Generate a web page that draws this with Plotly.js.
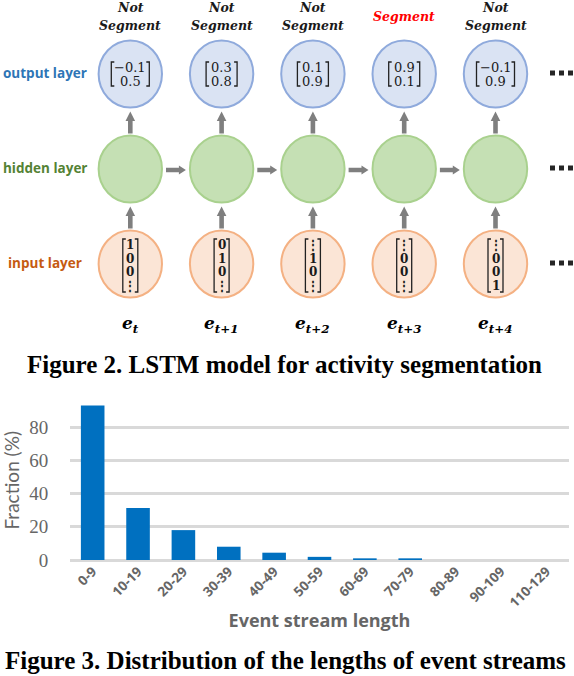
<!DOCTYPE html>
<html>
<head>
<meta charset="utf-8">
<script src="https://cdn.plot.ly/plotly-3.0.1.min.js"></script>
<style>html,body{margin:0;padding:0;background:#fff;}#chart{width:574px;height:676px;}</style>
</head>
<body>
<div id="chart"></div>
<script>
// ---- Bar chart data (Figure 3) ----
const categories = ['0-9','10-19','20-29','30-39','40-49','50-59','60-69','70-79','80-89','90-109','110-129'];
const fractions = [93, 31.3, 18, 8, 4.4, 1.9, 1.0, 1.0, 0, 0, 0];
const yTicks = [0, 20, 40, 60, 80];

// ---- Diagram content (Figure 2) ----
const stepLabels = ['t', 't+1', 't+2', 't+3', 't+4'];
const outputTop = ['\u22120.1', '0.3', '0.1', '0.9', '\u22120.1'];
const outputBottom = ['0.5', '0.8', '0.9', '0.1', '0.9'];
const decisions = ['Not Segment', 'Not Segment', 'Not Segment', 'Segment', 'Not Segment'];
const inputRow1 = ['1', '0', '\u22ee', '\u22ee', '\u22ee'];
const inputRow2 = ['0', '1', '1', '0', '0'];
const inputRow3 = ['0', '0', '0', '0', '0'];
const inputRow4 = ['\u22ee', '\u22ee', '\u22ee', '\u22ee', '1'];
const layerNames = ['output layer', 'hidden layer', 'input layer'];
const layerColors = ['#2e75b6', '#548235', '#c55a11'];

const W = 574, H = 676;
const px = x => x / W;
const py = y => 1 - y / H;

const colX = i => 130.3 + i * 91.3;
const rowY = [74, 169, 264];
const RX = 31.7, RY = 33.5;
const fills = ['#dae3f3', '#c5e0b4', '#fbe5d6'];
const strokes = ['#8faadc', '#a9d18e', '#f4b183'];
const arrowColor = '#7f7f7f';

const shapes = [];
const annotations = [];

// circles
for (let r = 0; r < 3; r++) {
  for (let i = 0; i < stepLabels.length; i++) {
    const cx = colX(i), cy = rowY[r];
    shapes.push({type:'circle', xref:'paper', yref:'paper',
      x0: px(cx - RX), x1: px(cx + RX), y0: py(cy + RY), y1: py(cy - RY),
      fillcolor: fills[r], line:{color: strokes[r], width: 2}});
  }
}

function poly(points) {
  return 'M ' + points.map(p => px(p[0]) + ',' + py(p[1])).join(' L ') + ' Z';
}
function arrowUp(x, yStart, yTip) {
  const hw = 2.3, headW = 4.8, headL = 9.5;
  shapes.push({type:'path', xref:'paper', yref:'paper', fillcolor: arrowColor, line:{width:0},
    path: poly([[x-hw, yStart],[x-hw, yTip+headL],[x-headW, yTip+headL],[x, yTip],[x+headW, yTip+headL],[x+hw, yTip+headL],[x+hw, yStart]])});
}
function arrowRight(xStart, xTip, y) {
  const hw = 2.3, headW = 4.5, headL = 7;
  shapes.push({type:'path', xref:'paper', yref:'paper', fillcolor: arrowColor, line:{width:0},
    path: poly([[xStart, y-hw],[xTip-headL, y-hw],[xTip-headL, y-headW],[xTip, y],[xTip-headL, y+headW],[xTip-headL, y+hw],[xStart, y+hw]])});
}
function square(cx, cy, s) {
  shapes.push({type:'rect', xref:'paper', yref:'paper', fillcolor:'#262626', line:{width:0},
    x0: px(cx - s/2), x1: px(cx + s/2), y0: py(cy + s/2), y1: py(cy - s/2)});
}

for (let i = 0; i < stepLabels.length; i++) {
  const cx = colX(i);
  arrowUp(cx, rowY[1] - RY - 2, rowY[0] + RY + 4);
  arrowUp(cx, rowY[2] - RY - 2, rowY[1] + RY + 4);
  if (i < stepLabels.length - 1) {
    arrowRight(cx + RX + 4, colX(i + 1) - RX - 4, rowY[1] + 1);
  }
}

function bracket(cx, cy, halfW, halfH) {
  const t = 3;
  shapes.push({type:'path', xref:'paper', yref:'paper', line:{color:'#222', width:1.3},
    path: 'M ' + px(cx-halfW+t) + ',' + py(cy-halfH) + ' L ' + px(cx-halfW) + ',' + py(cy-halfH) +
          ' L ' + px(cx-halfW) + ',' + py(cy+halfH) + ' L ' + px(cx-halfW+t) + ',' + py(cy+halfH)});
  shapes.push({type:'path', xref:'paper', yref:'paper', line:{color:'#222', width:1.3},
    path: 'M ' + px(cx+halfW-t) + ',' + py(cy-halfH) + ' L ' + px(cx+halfW) + ',' + py(cy-halfH) +
          ' L ' + px(cx+halfW) + ',' + py(cy+halfH) + ' L ' + px(cx+halfW-t) + ',' + py(cy+halfH)});
}

function txt(x, y, text, font, extra) {
  annotations.push(Object.assign({xref:'paper', yref:'paper', x: px(x), y: py(y), text: text,
    showarrow:false, xanchor:'center', yanchor:'middle', font: font}, extra || {}));
}

const numFont = {family:'DejaVu Serif', size:13, color:'#1a1a1a'};
const labFont = {family:'DejaVu Serif', size:12.5, color:'#1a1a1a'};

for (let i = 0; i < stepLabels.length; i++) {
  const cx = colX(i);
  // output vectors
  const len = Math.max(outputTop[i].length, outputBottom[i].length);
  bracket(cx, rowY[0], (10 + 7 * len) / 2, 12);
  txt(cx, rowY[0] - 6.5, outputTop[i], numFont);
  txt(cx, rowY[0] + 7.5, outputBottom[i], numFont);
  // input vectors
  bracket(cx, rowY[2] + 1.5, 7.5, 26.5);
  [inputRow1, inputRow2, inputRow3, inputRow4].forEach((row, k) => {
    txt(cx, rowY[2] - 19 + k * 13.5, '<b>' + row[i] + '</b>', {family:'DejaVu Serif', size:12, color:'#1a1a1a'});
  });
  // decisions
  const parts = decisions[i].split(' ');
  if (parts.length === 2) {
    txt(cx, 8, '<b><i>' + parts[0] + '</i></b>', labFont);
    txt(cx, 25, '<b><i>' + parts[1] + '</i></b>', labFont);
  } else {
    txt(cx, 16, '<b><i>' + parts[0] + '</i></b>', Object.assign({}, labFont, {color:'#ff0000'}));
  }
  // event labels
  txt(cx, 324, '<b><i>e</i></b><sub><b><i>' + stepLabels[i] + '</i></b></sub>',
      {family:'DejaVu Serif', size:17, color:'#000'});
}

// layer names and continuation dots
for (let r = 0; r < 3; r++) {
  txt(45, rowY[r] - 1, '<b>' + layerNames[r] + '</b>', {family:'Open Sans', size:13.5, color: layerColors[r]});
  for (let d = 0; d < 3; d++) square(552.5 + d * 9, rowY[r] - 1, 5);
}

// captions
txt(284, 364, '<b>Figure 2. LSTM model for activity segmentation</b>',
    {family:'Liberation Serif', size:25, color:'#000'});
txt(285, 660, '<b>Figure 3. Distribution of the lengths of event streams</b>',
    {family:'Liberation Serif', size:25, color:'#000'});

const trace = {
  type:'bar', x: categories, y: fractions,
  marker:{color:'#0070c0'}, hoverinfo:'x+y'
};

const layout = {
  width: W, height: H,
  margin:{l:0, r:0, t:0, b:0},
  paper_bgcolor:'#fff', plot_bgcolor:'rgba(0,0,0,0)',
  showlegend:false,
  bargap: 0.48,
  xaxis:{
    domain:[70/W, 569/W], anchor:'y', type:'category',
    tickvals: categories, ticktext: categories.map(c => '<b>' + c + '</b>'),
    tickangle:-45, showgrid:false, showline:false, ticks:'', zeroline:false,
    tickfont:{family:'Open Sans', size:13.5, color:'#666666'},
    title:{text:'<b>Event stream length</b>', font:{family:'Open Sans', size:18, color:'#666666'}, standoff:4}
  },
  yaxis:{
    domain:[(H-560)/H, (H-400.6)/H], anchor:'x', range:[0, 96],
    tickvals: yTicks, ticktext: yTicks.map(String),
    showgrid:true, gridcolor:'#d9d9d9', gridwidth:3,
    zeroline:true, zerolinecolor:'#d9d9d9', zerolinewidth:3,
    showline:false, ticks:'outside', ticklen:17, tickcolor:'rgba(0,0,0,0)',
    tickfont:{family:'Liberation Serif', size:19, color:'#666666'},
    title:{text:'Fraction (%)', font:{family:'Lato', size:19, color:'#666666'}, standoff:8}
  },
  shapes: shapes,
  annotations: annotations
};

Plotly.newPlot('chart', [trace], layout, {displayModeBar:false, staticPlot:true});
</script>
</body>
</html>
